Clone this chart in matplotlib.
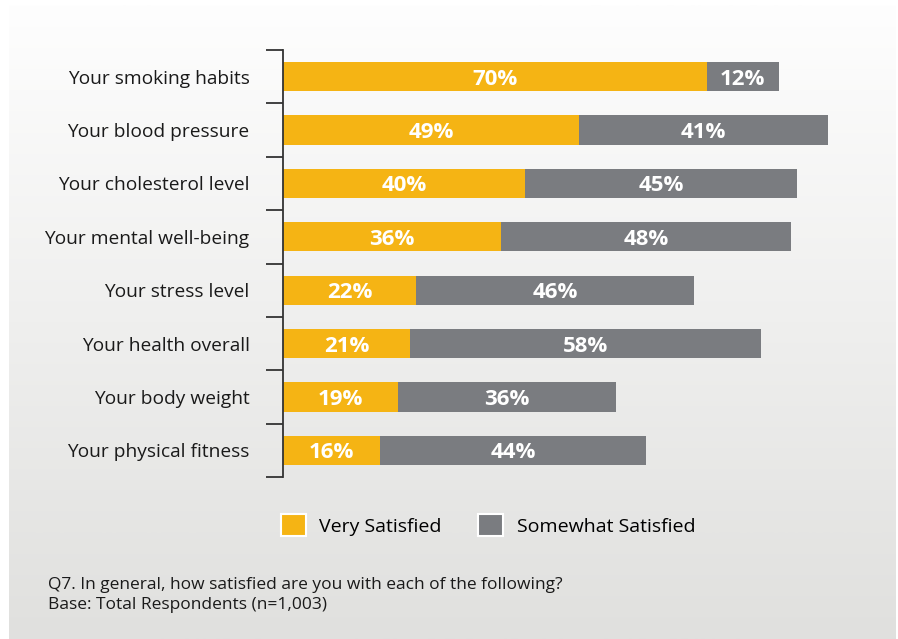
import numpy as np
import matplotlib.pyplot as plt

plt.rcParams['font.family'] = ['Open Sans', 'DejaVu Sans']

# 满意度数据（%）
categories = ['Your smoking habits', 'Your blood pressure', 'Your cholesterol level',
              'Your mental well-being', 'Your stress level', 'Your health overall',
              'Your body weight', 'Your physical fitness']
very_satisfied = [70, 49, 40, 36, 22, 21, 19, 16]
somewhat_satisfied = [12, 41, 45, 48, 46, 58, 36, 44]
series_names = ['Very Satisfied', 'Somewhat Satisfied']
note_lines = ['Q7. In general, how satisfied are you with each of the following?',
              'Base: Total Respondents (n=1,003)']

YELLOW = '#F5B414'
GRAY = '#7A7C80'

W, H = 898, 639
fig = plt.figure(figsize=(W / 100, H / 100), dpi=100)
fig.patch.set_facecolor('white')

# 背景渐变面板
bg = fig.add_axes([0, 0, 1, 1], zorder=0)
bg.set_xlim(0, W)
bg.set_ylim(H, 0)
bg.axis('off')
grad = np.linspace(0, 1, 256).reshape(-1, 1)
top = np.array([254, 254, 254]) / 255
bottom = np.array([224, 224, 222]) / 255
img = top + (bottom - top) * grad[..., None]
bg.imshow(img, extent=[9, 896, 639, 5], aspect='auto')

# 条形图区域：x=283 起，每1% 约6.05像素
left, right = 283, 283 + 100 * 6.05
ax_top, ax_bot = 50, 477
ax = fig.add_axes([left / W, 1 - ax_bot / H, (right - left) / W, (ax_bot - ax_top) / H], zorder=1)
ax.patch.set_alpha(0)

n = len(categories)
y = np.arange(n)
bar_h = 0.55
ax.barh(y, very_satisfied, height=bar_h, color=YELLOW, label=series_names[0])
ax.barh(y, somewhat_satisfied, left=very_satisfied, height=bar_h, color=GRAY,
        label=series_names[1])

for i in range(n):
    v, s = very_satisfied[i], somewhat_satisfied[i]
    ax.text(v / 2, i, f'{v}%', ha='center', va='center_baseline', color='white',
            fontsize=16, fontweight='bold')
    ax.text(v + s / 2, i, f'{s}%', ha='center', va='center_baseline', color='white',
            fontsize=16, fontweight='bold')

ax.set_xlim(0, 100)
ax.set_ylim(n - 0.5, -0.5)
ax.set_yticks(y)
ax.set_yticklabels(categories, fontsize=13.8, color='#1a1a1a')
ax.set_yticks(np.arange(-0.5, n, 1), minor=True)
ax.tick_params(axis='y', which='major', length=0, pad=24)
ax.tick_params(axis='y', which='minor', length=12.5, width=1.3, color='#333333')
ax.set_xticks([])
for side in ['top', 'right', 'bottom']:
    ax.spines[side].set_visible(False)
ax.spines['left'].set_color('#333333')
ax.spines['left'].set_linewidth(1.3)

# 图例
leg = fig.legend(loc='center left', bbox_to_anchor=(263 / W, 1 - 525 / H), ncol=2,
                 frameon=False, fontsize=14, handlelength=1.3, handleheight=1.3,
                 handletextpad=0.7, columnspacing=1.85)
for p in leg.get_patches():
    p.set_edgecolor('white')
    p.set_linewidth(1.5)

fig.text(48 / W, 1 - 585 / H, note_lines[0], fontsize=12.5, va='center', color='#1a1a1a')
fig.text(48 / W, 1 - 605 / H, note_lines[1], fontsize=12.5, va='center', color='#1a1a1a')

fig.savefig('out.png', dpi=100)
